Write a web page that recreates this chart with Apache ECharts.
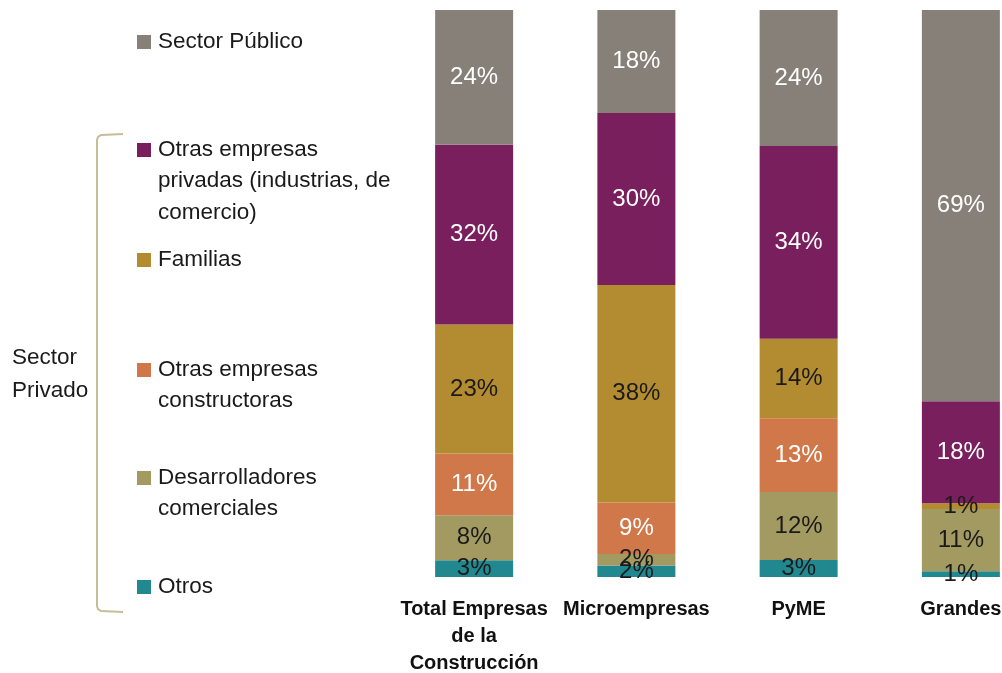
<!DOCTYPE html>
<html>
<head>
<meta charset="utf-8">
<style>
  html, body { margin: 0; padding: 0; background: #ffffff; overflow: hidden; }
  #chart { width: 1045px; height: 673px; }
</style>
<script src="https://cdn.jsdelivr.net/npm/echarts@6/dist/echarts.min.js"></script>
</head>
<body>
<div id="chart"></div>
<script>
// Company size groups
const categories = ['Total Empresas\nde la\nConstrucción', 'Microempresas', 'PyME', 'Grandes'];

// Share of sales by client type (%), stacked bottom to top
const otros = [3, 2, 3, 1];
const desarrolladores = [8, 2, 12, 11];
const constructoras = [11, 9, 13, 0];
const familias = [23, 38, 14, 1];
const otrasPrivadas = [32, 30, 34, 18];
const publico = [24, 18, 24, 69];

const seriesNames = [
  'Otros',
  'Desarrolladores comerciales',
  'Otras empresas constructoras',
  'Familias',
  'Otras empresas privadas (industrias, de comercio)',
  'Sector Público'
];
const legendText = [
  'Otros',
  'Desarrolladores\ncomerciales',
  'Otras empresas\nconstructoras',
  'Familias',
  'Otras empresas\nprivadas (industrias, de\ncomercio)',
  'Sector Público'
];
const legendTop = [587, 478, 370, 260, 150, 42];

const seriesValues = [otros, desarrolladores, constructoras, familias, otrasPrivadas, publico];
const colors = ['#218890', '#a39a62', '#d0784a', '#b38b31', '#7a1f5e', '#878079'];
const labelColors = ['#1a1a1a', '#1a1a1a', '#ffffff', '#1a1a1a', '#ffffff', '#ffffff'];

const FONT = '"Liberation Sans", Arial, sans-serif';

// Each column is shown as a 100% stack
const totals = categories.map((_, i) => seriesValues.reduce((s, arr) => s + arr[i], 0));

const series = seriesValues.map((vals, k) => ({
  name: seriesNames[k],
  type: 'bar',
  stack: 'share',
  barWidth: 78,
  itemStyle: { color: colors[k] },
  data: vals.map((v, i) => v === 0 ? '-' : v / totals[i] * 100),
  label: {
    show: true,
    position: 'inside',
    fontFamily: FONT,
    fontSize: 24,
    color: labelColors[k],
    formatter: p => vals[p.dataIndex] === 0 ? '' : vals[p.dataIndex] + '%'
  }
}));

// Legend column drawn at the left, square aligned to the first text line
const graphics = [];
seriesNames.forEach((n, k) => {
  graphics.push({
    type: 'rect',
    x: 137, y: legendTop[k] - 7,
    shape: { x: 0, y: 0, width: 14, height: 14 },
    style: { fill: colors[k] }
  });
  graphics.push({
    type: 'text',
    x: 158, y: legendTop[k] - 16,
    style: {
      text: legendText[k],
      font: '22.5px ' + FONT,
      fill: '#1a1a1a',
      lineHeight: 31.5
    }
  });
});

// Bracket grouping the private-sector clients
graphics.push({
  type: 'polyline',
  shape: {
    points: [[123, 134], [101, 135], [98, 137], [97, 140], [97, 606], [98, 609], [101, 611], [123, 612]]
  },
  style: { fill: null, stroke: '#c8bc97', lineWidth: 2 }
});
graphics.push({
  type: 'text',
  x: 12, y: 341,
  style: {
    text: 'Sector\nPrivado',
    font: '22.5px ' + FONT,
    fill: '#1a1a1a',
    lineHeight: 33
  }
});

const chart = echarts.init(document.getElementById('chart'));
chart.setOption({
  animation: false,
  backgroundColor: '#ffffff',
  grid: { left: 393, top: 10, width: 649, height: 567, outerBoundsMode: 'none', containLabel: false },
  xAxis: {
    type: 'category',
    data: categories,
    axisLine: { show: false },
    axisTick: { show: false },
    axisLabel: {
      interval: 0,
      margin: 19,
      fontFamily: FONT,
      fontSize: 20,
      fontWeight: 'bold',
      color: '#111111',
      lineHeight: 27
    }
  },
  yAxis: {
    type: 'value',
    min: 0,
    max: 100,
    show: false
  },
  graphic: graphics,
  series: series
});
</script>
</body>
</html>
